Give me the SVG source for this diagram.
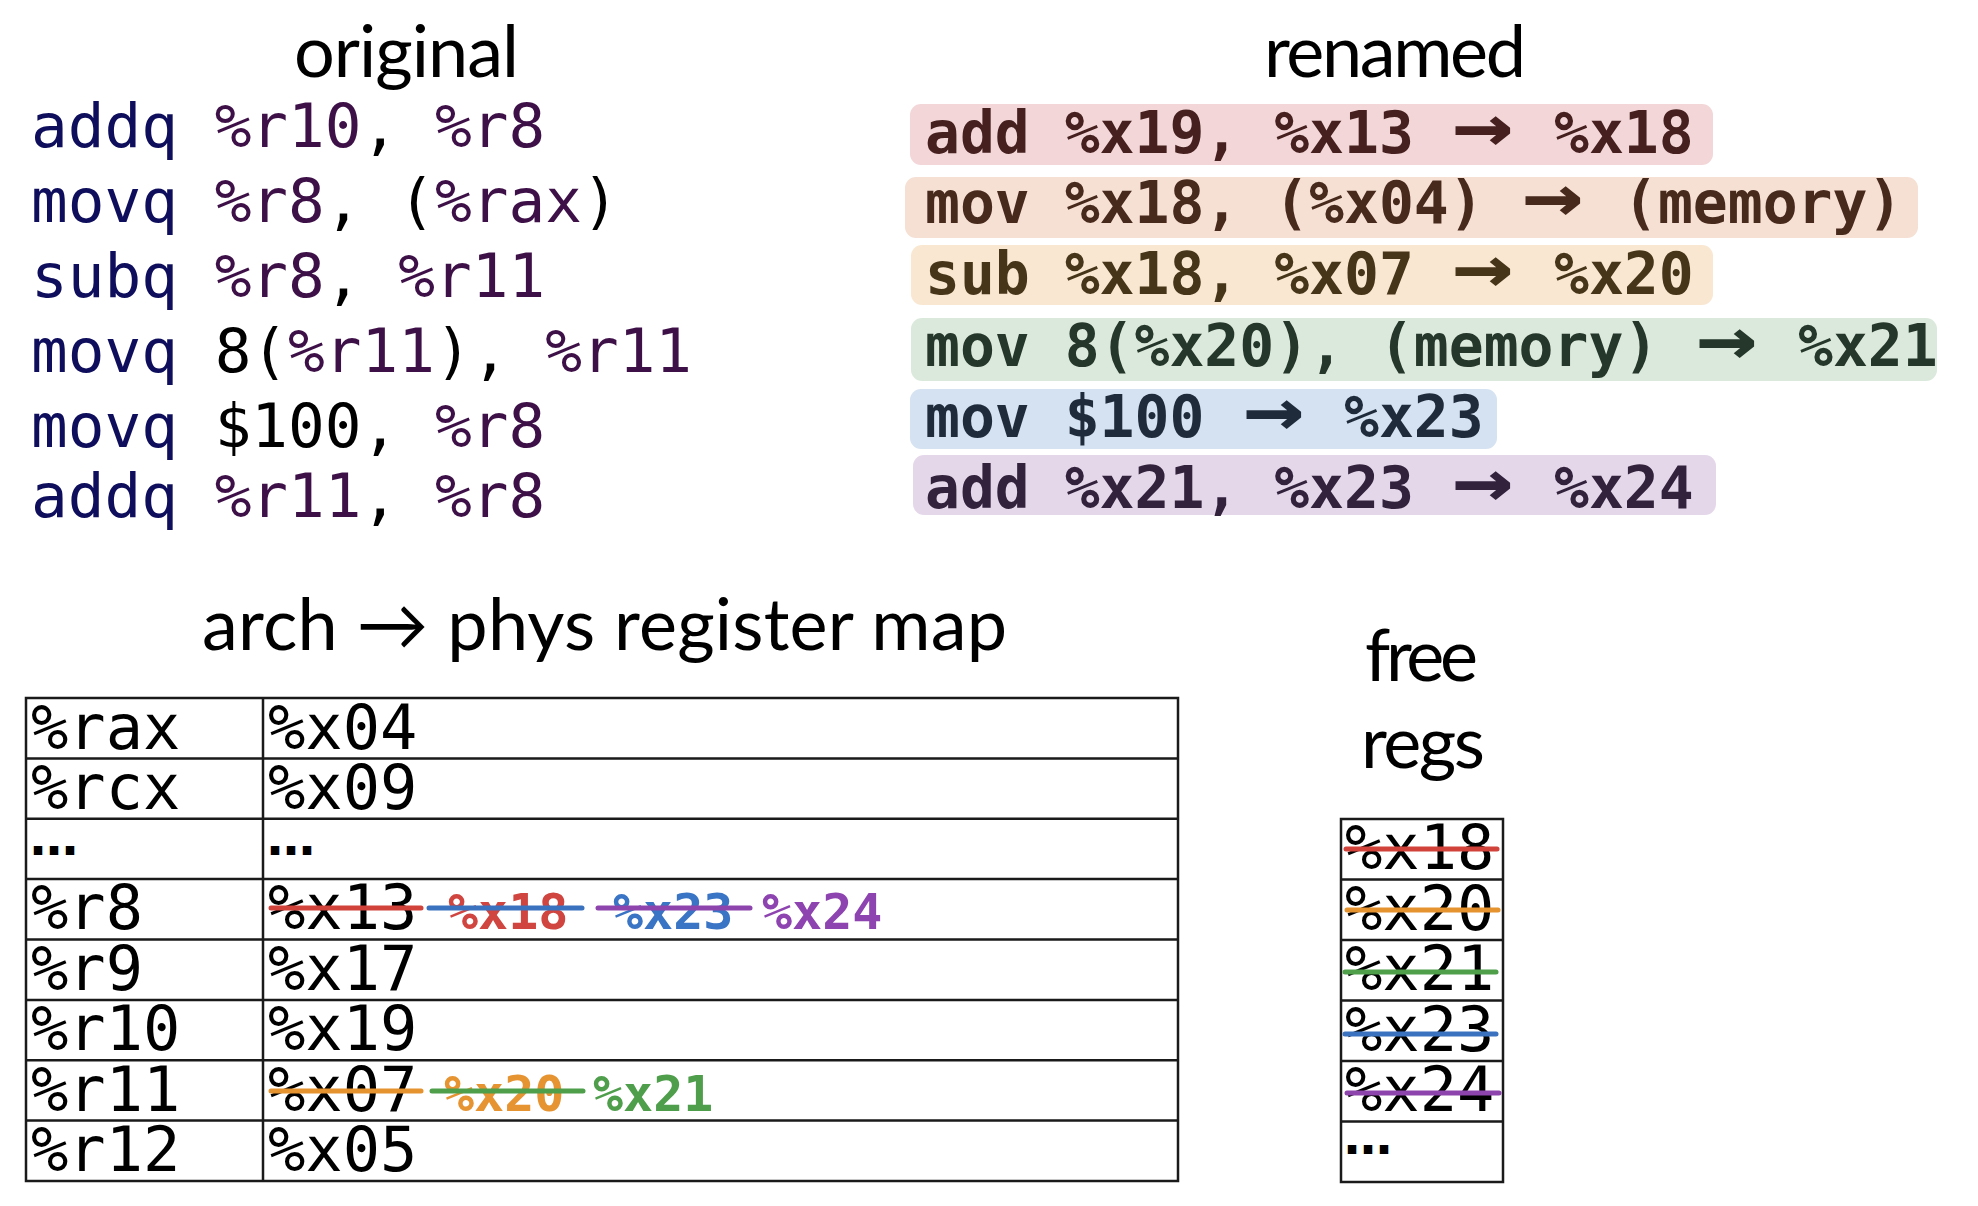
<svg xmlns="http://www.w3.org/2000/svg" width="1978" height="1206" viewBox="0 0 1978 1206">
<style>
.title{font-family:Lato,"Liberation Sans",sans-serif;font-size:72px;fill:#000}
.code{font-family:"DejaVu Sans Mono",monospace;font-size:61px}
.mn{fill:#0e0e5c}
.rg{fill:#3e1048}
.pn{fill:#000}
.ren{font-family:"DejaVu Sans Mono",monospace;font-size:58px;font-weight:bold}
.arr{font-family:"DejaVu Sans Mono",monospace;font-size:58px;font-weight:bold;text-anchor:middle}
.cell{font-family:"DejaVu Sans Mono",monospace;font-size:62px;fill:#000}
.newreg{font-family:"DejaVu Sans Mono",monospace;font-size:50px;font-weight:bold}
.dots{font-family:"DejaVu Sans",sans-serif;font-size:48px;font-weight:bold;fill:#000}
.grid{fill:none;stroke:#1a1a1a;stroke-width:2.5}
.strike{stroke-width:5;stroke-linecap:round;fill:none}
</style>
<rect width="1978" height="1206" fill="#fff"/>

<g id="original">
<text class="title" x="294" y="77" textLength="225" lengthAdjust="spacing">original</text>
<text class="code" x="31" y="147"><tspan class="mn">addq</tspan> <tspan class="rg">%r10</tspan><tspan class="pn">,</tspan> <tspan class="rg">%r8</tspan></text>
<text class="code" x="31" y="222"><tspan class="mn">movq</tspan> <tspan class="rg">%r8</tspan><tspan class="pn">, (</tspan><tspan class="rg">%rax</tspan><tspan class="pn">)</tspan></text>
<text class="code" x="31" y="297"><tspan class="mn">subq</tspan> <tspan class="rg">%r8</tspan><tspan class="pn">,</tspan> <tspan class="rg">%r11</tspan></text>
<text class="code" x="31" y="372"><tspan class="mn">movq</tspan> <tspan class="pn">8(</tspan><tspan class="rg">%r11</tspan><tspan class="pn">),</tspan> <tspan class="rg">%r11</tspan></text>
<text class="code" x="31" y="447"><tspan class="mn">movq</tspan> <tspan class="pn">$100,</tspan> <tspan class="rg">%r8</tspan></text>
<text class="code" x="31" y="517"><tspan class="mn">addq</tspan> <tspan class="rg">%r11</tspan><tspan class="pn">,</tspan> <tspan class="rg">%r8</tspan></text>
</g>

<g id="renamed">
<text class="title" x="1264" y="77" textLength="262" lengthAdjust="spacing">renamed</text>
<g id="ren1" fill="#45201f"><rect x="910" y="104" width="803" height="61" rx="11" fill="#f3d6d8"/><text class="ren" x="925" y="153">add %x19, %x13</text><text class="arr" transform="translate(1483 153) scale(1.75 1.4)">→</text><text class="ren" x="1554" y="153">%x18</text></g>
<g id="ren2" fill="#472a1c"><rect x="905" y="177" width="1013" height="61" rx="11" fill="#f6dfd3"/><text class="ren" x="925" y="223">mov %x18, (%x04)</text><text class="arr" transform="translate(1553 223) scale(1.75 1.4)">→</text><text class="ren" x="1623" y="223">(memory)</text></g>
<g id="ren3" fill="#473519"><rect x="911" y="245" width="802" height="60" rx="11" fill="#f9e7d1"/><text class="ren" x="925" y="294">sub %x18, %x07</text><text class="arr" transform="translate(1483 294) scale(1.75 1.4)">→</text><text class="ren" x="1554" y="294">%x20</text></g>
<g id="ren4" fill="#25372a"><rect x="911" y="318" width="1026" height="63" rx="11" fill="#dbe9dc"/><text class="ren" x="925" y="366">mov 8(%x20), (memory)</text><text class="arr" transform="translate(1727 366) scale(1.75 1.4)">→</text><text class="ren" x="1798" y="366">%x21</text></g>
<g id="ren5" fill="#1f2b3b"><rect x="910" y="389" width="587" height="60" rx="11" fill="#d5e2f1"/><text class="ren" x="925" y="437">mov $100</text><text class="arr" transform="translate(1274 437) scale(1.75 1.4)">→</text><text class="ren" x="1344" y="437">%x23</text></g>
<g id="ren6" fill="#33223c"><rect x="913" y="455" width="803" height="60" rx="11" fill="#e5d7ea"/><text class="ren" x="925" y="508">add %x21, %x23</text><text class="arr" transform="translate(1483 508) scale(1.75 1.4)">→</text><text class="ren" x="1554" y="508">%x24</text></g>
</g>

<g id="regmap">
<text class="title" x="202" y="650" textLength="805" lengthAdjust="spacing">arch → phys register map</text>
<rect class="grid" x="26" y="698" width="1152" height="483"/>
<path class="grid" d="M263 698V1181M26 758.4H1178M26 818.8H1178M26 879.1H1178M26 939.5H1178M26 999.9H1178M26 1060.3H1178M26 1120.6H1178"/>
<text class="cell" x="31" y="749">%rax</text><text class="cell" x="268" y="749">%x04</text>
<text class="cell" x="31" y="809">%rcx</text><text class="cell" x="268" y="809">%x09</text>
<text class="dots" x="30" y="855">…</text><text class="dots" x="267" y="855">…</text>
<text class="cell" x="31" y="929">%r8</text><text class="cell" x="268" y="929">%x13</text>
<text class="newreg" x="448" y="929" fill="#d0453f">%x18</text>
<text class="newreg" x="613" y="929" fill="#3a74c4">%x23</text>
<text class="newreg" x="762" y="929" fill="#8e44b0">%x24</text>
<line class="strike" x1="271" y1="908" x2="421" y2="908" stroke="#d1423b"/>
<line class="strike" x1="429" y1="908" x2="582" y2="908" stroke="#3a72c0"/>
<line class="strike" x1="598" y1="908" x2="750" y2="908" stroke="#8e44ad"/>
<text class="cell" x="31" y="990">%r9</text><text class="cell" x="268" y="990">%x17</text>
<text class="cell" x="31" y="1050">%r10</text><text class="cell" x="268" y="1050">%x19</text>
<text class="cell" x="31" y="1111">%r11</text><text class="cell" x="268" y="1111">%x07</text>
<text class="newreg" x="444" y="1111" fill="#e69332">%x20</text>
<text class="newreg" x="593" y="1111" fill="#4f9e4c">%x21</text>
<line class="strike" x1="271" y1="1091" x2="421" y2="1091" stroke="#e5932f"/>
<line class="strike" x1="432" y1="1091" x2="583" y2="1091" stroke="#4f9e4a"/>
<text class="cell" x="31" y="1171">%r12</text><text class="cell" x="268" y="1171">%x05</text>
</g>

<g id="freeregs">
<text class="title" x="1365" y="681" textLength="113" lengthAdjust="spacing">free</text>
<text class="title" x="1361" y="768" textLength="124" lengthAdjust="spacing">regs</text>
<rect class="grid" x="1341" y="819" width="162" height="363"/>
<path class="grid" d="M1341 879.5H1503M1341 940H1503M1341 1000.5H1503M1341 1061H1503M1341 1121.5H1503"/>
<text class="cell" x="1345" y="869">%x18</text>
<text class="cell" x="1345" y="930">%x20</text>
<text class="cell" x="1345" y="990">%x21</text>
<text class="cell" x="1345" y="1051">%x23</text>
<text class="cell" x="1345" y="1111">%x24</text>
<text class="dots" x="1344" y="1154">…</text>
<line class="strike" x1="1346" y1="849" x2="1497" y2="849" stroke="#d1423b"/>
<line class="strike" x1="1347" y1="910" x2="1498" y2="910" stroke="#e5932f"/>
<line class="strike" x1="1345" y1="972" x2="1496" y2="972" stroke="#4f9e4a"/>
<line class="strike" x1="1345" y1="1034" x2="1496" y2="1034" stroke="#3a72c0"/>
<line class="strike" x1="1347" y1="1093" x2="1499" y2="1093" stroke="#8e44ad"/>
</g>

<g id="connectors"/>
</svg>
